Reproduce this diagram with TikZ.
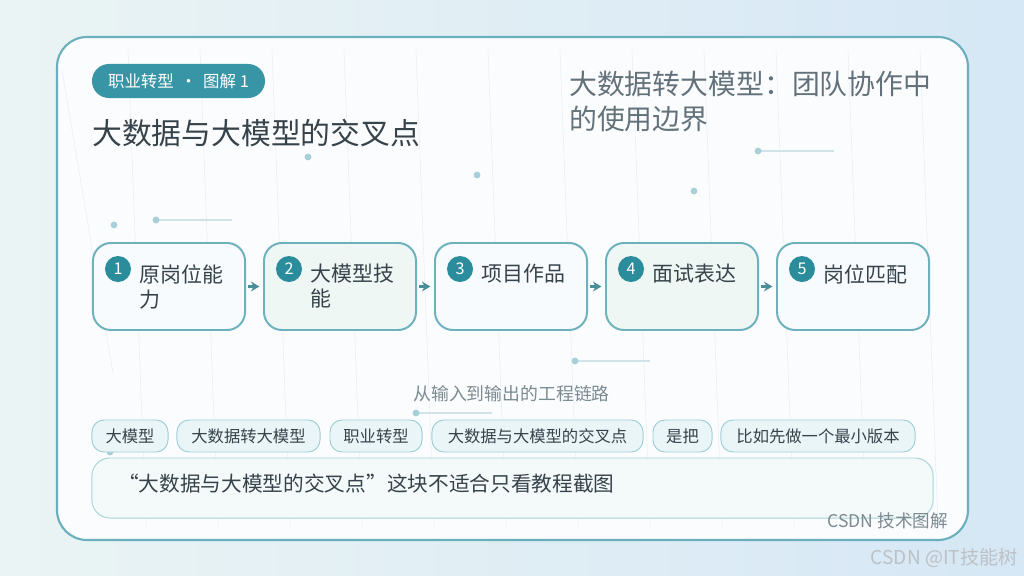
\documentclass[tikz,border=0pt]{standalone}
\usepackage{fontspec}
\setmainfont{Noto Sans CJK SC}
\usetikzlibrary{arrows.meta,calc}
\definecolor{bgA}{HTML}{EAF4F4}
\definecolor{bgB}{HTML}{D6E7F5}
\definecolor{cardfill}{HTML}{FBFCFE}
\definecolor{cardline}{HTML}{6AAFBC}
\definecolor{pillfill}{HTML}{3795A5}
\definecolor{numfill}{HTML}{2B8C9B}
\definecolor{boxline}{HTML}{6DB1BD}
\definecolor{boxA}{HTML}{F7FBFD}
\definecolor{boxB}{HTML}{EEF7F4}
\definecolor{arrc}{HTML}{4A8E9A}
\definecolor{txtdark}{HTML}{36434A}
\definecolor{txtgray}{HTML}{63727A}
\definecolor{txtlight}{HTML}{7C8B92}
\definecolor{tagfill}{HTML}{E9F5F7}
\definecolor{tagline}{HTML}{A2D0D8}
\definecolor{notefill}{HTML}{F4F9FA}
\definecolor{noteline}{HTML}{AAD4DB}
\definecolor{dotc}{HTML}{A6CFD7}
\definecolor{dotline}{HTML}{CFE3E8}
\definecolor{faint}{HTML}{E9EFF3}
\definecolor{wmark}{HTML}{BCC1C5}
\begin{document}
\begin{tikzpicture}[x=0.025cm,y=-0.025cm,
  stepbox/.style={draw=boxline, line width=1.4pt, rounded corners=0.45cm,
    minimum width=3.8cm, minimum height=2.175cm, inner sep=0pt},
  numc/.style={circle, fill=numfill, text=white, minimum size=0.65cm, inner sep=0pt,
    font=\fontsize{11.5}{12}\selectfont},
  steptxt/.style={anchor=north west, align=left, inner sep=0pt, text=txtdark,
    font=\fontsize{14.9}{17.8}\selectfont},
  arr/.style={-{Stealth[length=6pt,width=7pt]}, line width=1.7pt, draw=arrc,
    shorten <=0.06cm, shorten >=0.09cm},
  tag/.style={draw=tagline, fill=tagfill, line width=0.7pt, rounded corners=0.3cm,
    minimum height=0.8cm, inner sep=0pt, text=txtdark, font=\fontsize{11.6}{12}\selectfont},
  dot/.style={fill=dotc},
  dline/.style={draw=dotline, line width=0.8pt}
]
\useasboundingbox (0,0) rectangle (1024,576);
% background
\shade[left color=bgA, right color=bgB] (0,0) rectangle (1024,576);
% card
\path[fill=cardfill, draw=cardline, line width=1.5pt, rounded corners=0.75cm]
  (57,37) rectangle (968,540);
% faint slanted lines
\foreach \k in {0,...,11}{
  \draw[faint, line width=0.4pt] ({128+72*\k},50) -- ({146+72*\k},526);
}
\draw[faint, line width=0.4pt] (62,70) -- (113,373);
% decorative dots
\fill[dot] (308,157) circle (0.085cm);
\fill[dot] (477,175) circle (0.085cm);
\fill[dot] (694,191) circle (0.085cm);
\fill[dot] (114,225) circle (0.085cm);
\fill[dot] (110,452) circle (0.085cm);
\coordinate (d1) at (156,220); \coordinate (d1e) at (232,220);
\coordinate (d2) at (758,151); \coordinate (d2e) at (834,151);
\coordinate (d3) at (575,361); \coordinate (d3e) at (650,361);
\coordinate (d4) at (416,413); \coordinate (d4e) at (492,413);
\foreach \a/\b in {d1/d1e,d2/d2e,d3/d3e,d4/d4e}{
  \draw[dline] (\a) -- (\b);
  \fill[dot] (\a) circle (0.085cm);
}
\fill[dotc!40] (168,292) circle (0.085cm);
\fill[dotc!40] (440,443) circle (0.085cm);
% header pill
\node[fill=pillfill, rounded corners=0.425cm, minimum width=4.325cm, minimum height=0.85cm,
  inner sep=0pt, text=white, font=\fontsize{11.7}{12}\selectfont] (pill) at (178.5,81)
  {职业转型 \,·\, 图解 1};
% title
\node[anchor=west, inner sep=0pt, text=txtdark, font=\fontsize{21.2}{24}\selectfont]
  (title) at (92,133) {大数据与大模型的交叉点};
% right heading
\node[anchor=north west, align=left, inner sep=0pt, text=txtgray,
  font=\fontsize{19.8}{24.9}\selectfont] (head) at (569,71)
  {大数据转大模型：团队协作中\\的使用边界};
% step boxes
\node[stepbox, fill=boxA] (s1) at (169,286.5) {};
\node[stepbox, fill=boxB] (s2) at (340,286.5) {};
\node[stepbox, fill=boxA] (s3) at (511,286.5) {};
\node[stepbox, fill=boxB] (s4) at (682,286.5) {};
\node[stepbox, fill=boxA] (s5) at (853,286.5) {};
\foreach \i/\t in {1/{原岗位能\\力},2/{大模型技\\能},3/{项目作品},4/{面试表达},5/{岗位匹配}}{
  \node[numc] (n\i) at ($(s\i.north west)+(26,27)$) {\i};
  \node[steptxt] (t\i) at ($(s\i.north west)+(47,22)$) {\t};
}
\draw[arr] (s1) -- (s2);
\draw[arr] (s2) -- (s3);
\draw[arr] (s3) -- (s4);
\draw[arr] (s4) -- (s5);
% chain label
\node[anchor=west, inner sep=0pt, text=txtlight, font=\fontsize{12.7}{14}\selectfont]
  (chain) at (413,394) {从输入到输出的工程链路};
% tags
\node[tag, minimum width=1.9cm]   (g1) at (130,436)   {大模型};
\node[tag, minimum width=3.575cm] (g2) at (248.5,436) {大数据转大模型};
\node[tag, minimum width=2.3cm]   (g3) at (376,436)   {职业转型};
\node[tag, minimum width=5.275cm] (g4) at (537.5,436) {大数据与大模型的交叉点};
\node[tag, minimum width=1.475cm] (g5) at (682.5,436) {是把};
\node[tag, minimum width=4.85cm]  (g6) at (818,436)   {比如先做一个最小版本};
% note box
\node[draw=noteline, fill=notefill, line width=0.7pt, rounded corners=0.45cm,
  minimum width=21.025cm, minimum height=1.5cm, inner sep=0pt] (note) at (512.5,488) {};
\node[anchor=west, inner sep=0pt, text=txtdark, font=\fontsize{14.7}{16}\selectfont]
  (notetxt) at (118,484) {“大数据与大模型的交叉点”这块不适合只看教程截图};
% footer
\node[anchor=east, inner sep=0pt, text=txtlight, font=\fontsize{12.5}{14}\selectfont]
  (foot) at (948,521) {CSDN 技术图解};
\node[anchor=east, inner sep=0pt, text=wmark, font=\fontsize{13.6}{15}\selectfont]
  (wm) at (1018,558) {CSDN @IT技能树};
\end{tikzpicture}
\end{document}
